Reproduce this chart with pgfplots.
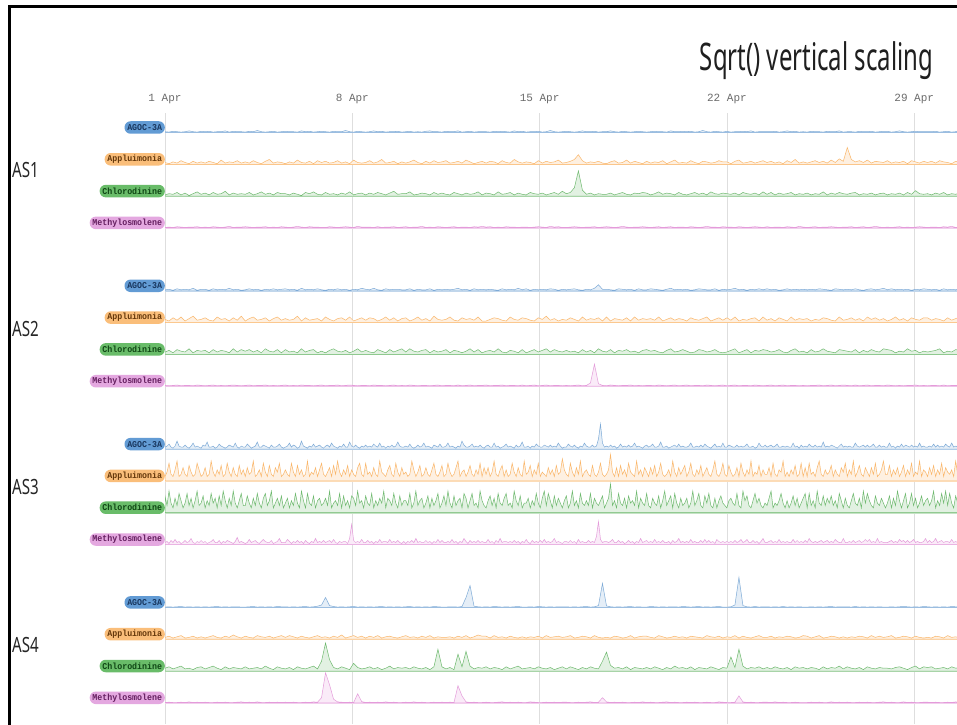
\documentclass[border=0pt]{standalone}
\usepackage{fontspec}
\setmainfont{Noto Sans}
\newfontfamily\mono{Liberation Mono}
\usepackage{pgfplots}
\usepackage{pgfplotstable}
\pgfplotsset{compat=1.18}

\definecolor{cB}{RGB}{125,170,215}\definecolor{cBp}{RGB}{98,155,212}\definecolor{cBt}{RGB}{25,55,95}
\definecolor{cO}{RGB}{250,182,105}\definecolor{cOp}{RGB}{250,190,122}\definecolor{cOt}{RGB}{100,55,10}
\definecolor{cG}{RGB}{110,185,110}\definecolor{cGp}{RGB}{105,188,105}\definecolor{cGt}{RGB}{15,70,20}
\definecolor{cP}{RGB}{228,155,218}\definecolor{cPp}{RGB}{228,168,224}\definecolor{cPt}{RGB}{100,30,95}

% AS1 AGOC-3A
\pgfplotstableread[row sep=\\]{v\\
2\\1\\3\\2\\1\\2\\4\\2\\1\\3\\
2\\3\\1\\2\\2\\4\\1\\3\\2\\2\\
1\\3\\2\\5\\2\\1\\2\\3\\1\\2\\
3\\2\\2\\1\\4\\2\\3\\1\\2\\3\\
2\\1\\3\\2\\2\\5\\2\\1\\3\\2\\
1\\2\\4\\2\\3\\1\\2\\2\\3\\1\\
2\\3\\1\\2\\1\\3\\4\\2\\2\\1\\
3\\2\\2\\4\\1\\2\\3\\1\\2\\2\\
2\\1\\3\\2\\3\\2\\1\\4\\2\\3\\
1\\2\\2\\3\\1\\2\\5\\2\\1\\2\\
3\\2\\1\\2\\4\\2\\2\\3\\1\\2\\
2\\4\\2\\1\\3\\2\\1\\2\\3\\2\\
1\\2\\3\\2\\2\\1\\4\\2\\2\\3\\
2\\3\\1\\2\\5\\2\\1\\3\\2\\1\\
3\\1\\2\\2\\3\\2\\4\\1\\2\\2\\
2\\2\\3\\1\\2\\4\\2\\3\\1\\2\\
1\\3\\2\\2\\1\\3\\2\\2\\4\\1\\
2\\2\\1\\3\\2\\2\\3\\1\\2\\3\\
3\\1\\2\\4\\2\\1\\2\\3\\2\\2\\
2\\2\\3\\1\\2\\3\\1\\2\\4\\2\\
}\tAa
% AS1 Appluimonia
\pgfplotstableread[row sep=\\]{v\\
3\\1\\4\\2\\6\\3\\1\\5\\2\\4\\
2\\5\\3\\1\\7\\2\\4\\3\\6\\2\\
4\\2\\6\\3\\1\\5\\8\\2\\4\\3\\
1\\4\\2\\7\\3\\2\\5\\1\\6\\3\\
5\\2\\3\\6\\2\\4\\1\\7\\3\\2\\
3\\6\\2\\4\\8\\2\\3\\5\\1\\4\\
2\\4\\7\\3\\1\\5\\2\\6\\3\\4\\
6\\2\\3\\5\\2\\7\\4\\1\\3\\5\\
2\\5\\4\\1\\6\\3\\2\\8\\4\\2\\
4\\3\\1\\6\\2\\5\\3\\4\\7\\2\\
3\\5\\8\\16\\6\\2\\4\\3\\5\\2\\
1\\4\\6\\2\\3\\7\\2\\5\\3\\1\\
5\\2\\4\\3\\6\\1\\4\\7\\2\\3\\
2\\6\\3\\1\\5\\4\\2\\3\\6\\4\\
4\\1\\5\\7\\2\\3\\5\\2\\4\\6\\
3\\5\\2\\4\\1\\6\\3\\8\\2\\4\\
2\\4\\6\\3\\5\\2\\7\\3\\9\\5\\
28\\8\\4\\6\\3\\7\\2\\5\\4\\3\\
6\\2\\4\\3\\5\\1\\6\\4\\2\\5\\
3\\5\\2\\6\\4\\3\\1\\5\\3\\4\\
}\tAb
% AS1 Chlorodinine
\pgfplotstableread[row sep=\\]{v\\
2\\4\\3\\6\\2\\5\\1\\4\\7\\3\\
5\\2\\6\\3\\4\\8\\2\\5\\3\\4\\
3\\6\\2\\4\\7\\3\\5\\2\\6\\4\\
4\\2\\5\\3\\1\\6\\4\\7\\3\\2\\
6\\3\\4\\2\\5\\3\\7\\2\\4\\5\\
2\\5\\3\\6\\4\\2\\5\\8\\3\\4\\
4\\7\\2\\3\\5\\4\\2\\6\\3\\5\\
3\\2\\6\\4\\2\\5\\3\\4\\7\\2\\
5\\4\\2\\7\\3\\4\\6\\2\\5\\3\\
2\\6\\4\\3\\5\\2\\4\\6\\3\\8\\
4\\6\\14\\42\\10\\3\\5\\2\\4\\3\\
3\\5\\2\\4\\6\\3\\2\\5\\4\\6\\
5\\2\\4\\7\\3\\5\\4\\2\\6\\3\\
2\\4\\6\\3\\5\\2\\7\\4\\3\\5\\
4\\3\\5\\2\\6\\4\\3\\5\\2\\7\\
3\\6\\2\\5\\3\\4\\6\\2\\4\\3\\
5\\2\\4\\3\\7\\2\\5\\3\\6\\4\\
3\\5\\6\\2\\4\\3\\5\\2\\4\\5\\
2\\4\\3\\5\\2\\6\\3\\9\\4\\3\\
4\\2\\5\\3\\6\\2\\4\\3\\5\\2\\
}\tAc
% AS1 Methylosmolene
\pgfplotstableread[row sep=\\]{v\\
1\\2\\1\\3\\2\\1\\2\\2\\3\\1\\
2\\1\\3\\2\\1\\2\\4\\1\\2\\2\\
3\\2\\1\\2\\2\\3\\1\\2\\1\\3\\
2\\1\\2\\4\\2\\1\\3\\2\\2\\1\\
1\\3\\2\\1\\2\\3\\2\\1\\4\\2\\
2\\2\\1\\3\\1\\2\\2\\3\\1\\2\\
3\\1\\2\\2\\4\\1\\2\\1\\3\\2\\
1\\2\\3\\1\\2\\2\\1\\3\\2\\4\\
2\\3\\1\\2\\1\\3\\2\\2\\1\\2\\
2\\1\\2\\3\\2\\1\\4\\2\\3\\1\\
1\\2\\3\\2\\1\\2\\2\\3\\1\\2\\
3\\2\\1\\2\\4\\2\\1\\2\\2\\3\\
2\\1\\2\\3\\1\\2\\3\\1\\2\\2\\
1\\3\\2\\1\\2\\4\\2\\2\\1\\3\\
2\\2\\1\\3\\2\\1\\2\\3\\2\\1\\
3\\1\\2\\2\\1\\3\\2\\1\\4\\2\\
1\\2\\3\\1\\2\\2\\3\\2\\1\\2\\
2\\3\\1\\2\\3\\1\\2\\4\\2\\1\\
2\\1\\2\\3\\1\\2\\1\\2\\3\\2\\
1\\2\\2\\1\\3\\2\\4\\1\\2\\3\\
}\tAd
% AS2 AGOC-3A
\pgfplotstableread[row sep=\\]{v\\
2\\3\\1\\4\\2\\3\\2\\5\\1\\3\\
3\\1\\4\\2\\3\\2\\5\\2\\3\\1\\
2\\4\\2\\3\\1\\3\\2\\4\\2\\3\\
4\\2\\3\\1\\5\\2\\3\\2\\4\\2\\
1\\3\\2\\4\\2\\3\\1\\3\\2\\5\\
3\\2\\5\\2\\1\\4\\2\\3\\3\\2\\
2\\4\\1\\3\\2\\2\\4\\1\\3\\2\\
3\\2\\3\\5\\2\\3\\1\\4\\2\\3\\
2\\3\\2\\1\\4\\2\\3\\2\\5\\2\\
4\\1\\3\\2\\3\\2\\4\\3\\1\\3\\
2\\3\\4\\2\\1\\3\\2\\5\\12\\3\\
3\\2\\1\\4\\3\\2\\3\\1\\4\\2\\
2\\4\\3\\2\\1\\3\\5\\2\\3\\2\\
3\\1\\2\\4\\3\\2\\2\\4\\1\\3\\
2\\3\\5\\2\\3\\1\\3\\2\\4\\2\\
4\\2\\3\\1\\2\\4\\2\\3\\2\\3\\
2\\3\\2\\4\\3\\2\\1\\4\\3\\2\\
3\\2\\4\\2\\1\\3\\4\\2\\3\\5\\
2\\4\\2\\3\\2\\3\\1\\3\\2\\4\\
3\\2\\3\\1\\4\\2\\3\\2\\4\\2\\
}\tBa
% AS2 Appluimonia
\pgfplotstableread[row sep=\\]{v\\
4\\2\\6\\3\\7\\2\\5\\8\\3\\4\\
6\\3\\2\\7\\4\\5\\2\\6\\3\\8\\
2\\5\\7\\3\\4\\6\\2\\5\\7\\3\\
5\\3\\4\\8\\2\\6\\3\\4\\5\\2\\
7\\4\\2\\5\\6\\3\\7\\2\\4\\6\\
3\\6\\5\\2\\4\\7\\3\\6\\2\\5\\
6\\2\\4\\7\\3\\5\\2\\8\\4\\3\\
4\\7\\3\\2\\6\\4\\5\\3\\7\\2\\
2\\4\\6\\5\\3\\2\\7\\4\\3\\6\\
5\\3\\2\\6\\4\\8\\3\\5\\2\\4\\
3\\6\\4\\2\\7\\3\\5\\4\\6\\2\\
7\\2\\5\\4\\3\\6\\2\\7\\3\\5\\
4\\5\\3\\7\\2\\4\\6\\3\\5\\4\\
2\\6\\4\\3\\5\\7\\2\\4\\6\\3\\
6\\3\\7\\2\\4\\3\\5\\6\\2\\7\\
3\\5\\2\\6\\4\\2\\7\\3\\5\\4\\
5\\2\\4\\3\\6\\5\\3\\2\\7\\3\\
4\\6\\3\\5\\2\\7\\4\\6\\3\\5\\
2\\4\\7\\3\\5\\2\\6\\4\\3\\6\\
6\\3\\5\\4\\2\\6\\3\\5\\7\\4\\
}\tBb
% AS2 Chlorodinine
\pgfplotstableread[row sep=\\]{v\\
3\\5\\2\\6\\4\\3\\7\\2\\5\\4\\
5\\2\\6\\3\\5\\4\\2\\7\\3\\6\\
4\\6\\3\\5\\2\\7\\4\\3\\6\\2\\
6\\3\\4\\2\\7\\3\\5\\6\\2\\4\\
2\\5\\7\\4\\3\\5\\2\\4\\7\\3\\
5\\3\\2\\6\\4\\2\\6\\3\\5\\7\\
3\\7\\4\\3\\5\\6\\2\\5\\3\\4\\
6\\2\\5\\4\\2\\4\\7\\3\\6\\2\\
4\\5\\3\\7\\3\\2\\5\\4\\2\\6\\
2\\4\\6\\3\\5\\7\\3\\6\\4\\3\\
5\\3\\4\\2\\6\\3\\5\\2\\7\\4\\
3\\6\\2\\5\\4\\6\\3\\4\\2\\5\\
6\\4\\5\\3\\2\\5\\7\\3\\4\\6\\
4\\2\\3\\6\\5\\3\\4\\6\\3\\2\\
3\\5\\7\\2\\4\\6\\2\\5\\4\\6\\
5\\3\\4\\6\\3\\2\\5\\7\\3\\4\\
2\\6\\3\\4\\7\\4\\3\\2\\6\\5\\
4\\3\\6\\2\\5\\3\\6\\4\\3\\7\\
6\\5\\2\\4\\3\\7\\4\\5\\2\\4\\
3\\4\\5\\7\\2\\4\\3\\6\\5\\3\\
}\tBc
% AS2 Methylosmolene
\pgfplotstableread[row sep=\\]{v\\
2\\1\\2\\3\\1\\2\\2\\1\\3\\2\\
1\\2\\3\\1\\2\\1\\2\\3\\2\\1\\
2\\3\\1\\2\\2\\3\\1\\2\\1\\2\\
3\\1\\2\\1\\3\\2\\2\\1\\2\\3\\
1\\2\\2\\3\\1\\2\\3\\2\\1\\2\\
2\\1\\3\\2\\2\\1\\2\\3\\1\\2\\
1\\3\\2\\1\\2\\2\\1\\2\\3\\1\\
2\\2\\1\\3\\1\\2\\3\\1\\2\\2\\
3\\1\\2\\2\\3\\1\\2\\2\\1\\3\\
1\\2\\3\\1\\2\\3\\1\\2\\2\\1\\
2\\1\\2\\3\\1\\2\\8\\55\\6\\2\\
1\\3\\2\\1\\2\\2\\3\\1\\2\\1\\
2\\2\\1\\3\\2\\1\\2\\3\\1\\2\\
3\\1\\2\\2\\1\\3\\2\\1\\2\\3\\
1\\2\\3\\1\\2\\2\\1\\3\\2\\1\\
2\\3\\1\\2\\3\\1\\2\\2\\1\\2\\
1\\2\\2\\3\\1\\2\\3\\1\\2\\3\\
2\\1\\3\\1\\2\\3\\1\\2\\2\\1\\
3\\2\\1\\2\\1\\2\\2\\3\\1\\2\\
1\\2\\2\\1\\3\\1\\2\\2\\3\\1\\
}\tBd
% AS3 AGOC-3A (finer step)
\pgfplotstableread[row sep=\\]{v\\
2\\3\\5\\2\\1\\3\\8\\3\\2\\2\\
4\\2\\1\\3\\6\\2\\3\\2\\1\\4\\
3\\7\\2\\2\\3\\1\\2\\5\\3\\2\\
1\\2\\4\\3\\2\\6\\2\\1\\3\\2\\
2\\5\\3\\1\\2\\3\\7\\2\\2\\4\\
3\\2\\1\\4\\2\\2\\3\\5\\2\\1\\
2\\3\\6\\2\\4\\3\\1\\2\\8\\3\\
2\\1\\3\\2\\5\\2\\3\\4\\2\\1\\
3\\4\\2\\6\\3\\2\\1\\3\\2\\5\\
2\\2\\7\\3\\2\\4\\2\\1\\3\\2\\
4\\2\\3\\2\\5\\3\\2\\6\\2\\3\\
1\\3\\2\\4\\2\\3\\7\\3\\2\\2\\
3\\2\\5\\2\\1\\2\\4\\2\\3\\6\\
2\\3\\2\\1\\4\\3\\2\\5\\2\\2\\
3\\6\\2\\3\\2\\1\\3\\2\\8\\4\\
2\\2\\3\\5\\2\\3\\2\\4\\2\\1\\
3\\4\\2\\2\\6\\2\\3\\1\\2\\3\\
5\\2\\3\\2\\1\\4\\2\\3\\7\\2\\
2\\3\\1\\3\\2\\5\\3\\2\\2\\4\\
3\\2\\4\\2\\3\\2\\6\\3\\1\\2\\
2\\5\\3\\2\\4\\2\\1\\3\\2\\6\\
3\\2\\2\\4\\2\\3\\10\\25\\6\\2\\
3\\2\\4\\2\\3\\1\\2\\5\\2\\3\\
2\\4\\2\\3\\6\\2\\3\\2\\1\\3\\
4\\2\\3\\5\\2\\2\\3\\7\\2\\2\\
3\\1\\2\\3\\4\\2\\5\\2\\3\\2\\
2\\3\\6\\2\\2\\3\\2\\4\\2\\5\\
3\\2\\1\\3\\5\\2\\3\\2\\6\\2\\
2\\4\\3\\2\\2\\4\\2\\3\\2\\3\\
5\\2\\2\\3\\1\\2\\6\\3\\2\\4\\
2\\3\\4\\2\\3\\5\\2\\2\\3\\2\\
3\\2\\2\\6\\2\\3\\1\\4\\2\\3\\
2\\5\\3\\2\\4\\2\\3\\2\\7\\2\\
3\\2\\4\\3\\2\\1\\3\\5\\2\\3\\
2\\3\\2\\2\\6\\3\\2\\3\\4\\2\\
4\\2\\3\\5\\2\\2\\4\\2\\3\\2\\
2\\6\\2\\3\\1\\3\\2\\5\\2\\4\\
3\\2\\4\\2\\3\\2\\6\\2\\3\\2\\
2\\3\\2\\5\\2\\4\\2\\3\\2\\5\\
3\\2\\6\\2\\3\\2\\4\\2\\3\\2\\
}\tCa
% AS3 Appluimonia (finer step)
\pgfplotstableread[row sep=\\]{v\\
2\\4\\8\\3\\2\\5\\9\\2\\3\\6\\
3\\2\\7\\4\\2\\3\\8\\5\\2\\3\\
6\\2\\3\\9\\4\\2\\5\\3\\7\\2\\
3\\8\\4\\2\\6\\3\\2\\7\\3\\5\\
2\\6\\3\\4\\9\\2\\3\\5\\2\\8\\
4\\2\\7\\3\\2\\6\\4\\8\\2\\3\\
5\\3\\2\\8\\4\\2\\7\\3\\5\\2\\
3\\9\\2\\4\\3\\6\\2\\5\\8\\3\\
2\\4\\6\\2\\7\\3\\9\\4\\2\\5\\
3\\7\\2\\5\\3\\2\\6\\8\\3\\2\\
8\\3\\4\\2\\6\\3\\2\\9\\4\\3\\
2\\5\\7\\3\\2\\8\\4\\2\\6\\3\\
4\\2\\3\\9\\5\\2\\4\\7\\2\\3\\
6\\3\\2\\5\\8\\3\\2\\4\\7\\2\\
3\\8\\4\\2\\3\\6\\9\\2\\4\\5\\
2\\4\\7\\3\\2\\5\\3\\8\\2\\6\\
3\\6\\2\\4\\9\\3\\2\\5\\7\\2\\
5\\2\\3\\8\\4\\2\\6\\3\\2\\9\\
3\\4\\7\\2\\5\\3\\8\\2\\4\\3\\
2\\6\\3\\5\\2\\7\\3\\4\\10\\5\\
3\\2\\8\\4\\2\\6\\3\\9\\2\\4\\
5\\3\\2\\7\\3\\2\\4\\8\\3\\2\\
3\\5\\12\\4\\2\\6\\2\\7\\3\\5\\
2\\8\\4\\3\\2\\9\\3\\5\\2\\6\\
4\\2\\6\\3\\7\\2\\4\\8\\3\\2\\
3\\5\\2\\9\\4\\2\\6\\3\\5\\7\\
2\\4\\8\\3\\2\\5\\3\\7\\2\\4\\
6\\3\\2\\5\\9\\3\\2\\4\\8\\3\\
2\\7\\4\\2\\3\\6\\2\\8\\4\\2\\
5\\3\\9\\2\\4\\3\\7\\2\\5\\3\\
3\\6\\2\\8\\3\\2\\5\\4\\9\\2\\
4\\2\\5\\3\\7\\2\\3\\8\\2\\6\\
2\\8\\3\\4\\2\\6\\9\\3\\2\\5\\
3\\4\\7\\2\\5\\3\\2\\6\\4\\8\\
2\\5\\3\\9\\2\\4\\7\\3\\2\\6\\
4\\2\\6\\3\\8\\2\\3\\5\\9\\3\\
3\\7\\2\\5\\3\\6\\2\\4\\7\\2\\
5\\3\\8\\2\\4\\3\\9\\2\\5\\4\\
2\\6\\3\\7\\2\\5\\3\\8\\2\\6\\
4\\3\\5\\2\\9\\3\\4\\6\\2\\7\\
}\tCb
% AS3 Chlorodinine (finer step)
\pgfplotstableread[row sep=\\]{v\\
7\\3\\9\\4\\2\\6\\3\\8\\5\\2\\
4\\8\\3\\6\\2\\5\\9\\3\\4\\7\\
2\\5\\3\\8\\4\\6\\2\\7\\3\\9\\
5\\2\\6\\3\\9\\4\\2\\5\\8\\3\\
3\\7\\4\\2\\6\\3\\8\\4\\2\\6\\
8\\3\\5\\9\\2\\4\\6\\3\\7\\2\\
4\\6\\2\\5\\3\\8\\4\\2\\9\\5\\
2\\8\\4\\3\\7\\2\\5\\6\\3\\4\\
6\\3\\9\\2\\4\\5\\3\\8\\2\\7\\
3\\5\\2\\7\\6\\3\\9\\4\\5\\2\\
7\\4\\3\\8\\2\\5\\3\\6\\4\\9\\
2\\6\\5\\3\\8\\4\\2\\7\\3\\5\\
5\\3\\8\\2\\4\\9\\3\\5\\6\\2\\
4\\7\\2\\6\\3\\5\\8\\2\\4\\7\\
3\\9\\4\\2\\7\\3\\5\\6\\2\\8\\
6\\2\\5\\8\\3\\4\\2\\9\\5\\3\\
2\\5\\7\\3\\6\\2\\8\\4\\3\\6\\
8\\3\\4\\2\\9\\5\\3\\7\\2\\4\\
4\\6\\2\\5\\3\\8\\4\\2\\6\\9\\
3\\8\\5\\2\\7\\3\\6\\4\\2\\5\\
7\\2\\4\\9\\3\\5\\2\\8\\4\\3\\
5\\3\\8\\2\\6\\4\\3\\5\\7\\2\\
4\\6\\12\\3\\5\\2\\8\\4\\3\\6\\
2\\7\\4\\5\\3\\9\\2\\6\\4\\3\\
8\\3\\2\\6\\4\\3\\7\\2\\5\\9\\
3\\5\\7\\2\\8\\4\\2\\6\\3\\4\\
6\\2\\4\\9\\3\\5\\8\\3\\2\\7\\
4\\8\\3\\2\\6\\2\\5\\7\\4\\3\\
2\\5\\6\\4\\3\\8\\3\\2\\9\\5\\
7\\3\\2\\5\\8\\4\\6\\3\\2\\4\\
3\\6\\9\\2\\4\\3\\5\\8\\4\\2\\
5\\2\\4\\7\\3\\6\\2\\4\\6\\8\\
2\\8\\3\\5\\2\\9\\4\\3\\7\\3\\
6\\4\\7\\3\\5\\2\\8\\5\\2\\6\\
3\\2\\5\\8\\4\\3\\6\\2\\9\\4\\
8\\5\\3\\2\\7\\4\\3\\6\\4\\2\\
4\\7\\2\\6\\3\\9\\5\\2\\5\\8\\
2\\4\\8\\3\\6\\2\\4\\7\\3\\5\\
6\\3\\5\\9\\2\\5\\3\\8\\4\\9\\
3\\8\\4\\2\\7\\4\\6\\3\\9\\5\\
}\tCc
% AS3 Methylosmolene (finer step)
\pgfplotstableread[row sep=\\]{v\\
2\\3\\1\\4\\2\\5\\2\\3\\1\\2\\
4\\2\\3\\6\\2\\1\\3\\2\\4\\2\\
3\\1\\2\\3\\5\\2\\2\\4\\1\\3\\
2\\4\\3\\2\\1\\3\\7\\2\\3\\2\\
1\\2\\5\\2\\3\\4\\2\\1\\3\\5\\
3\\2\\2\\4\\1\\2\\3\\6\\2\\2\\
2\\5\\3\\1\\3\\2\\4\\2\\3\\1\\
4\\2\\1\\3\\2\\6\\2\\3\\2\\4\\
2\\3\\4\\2\\5\\2\\1\\3\\2\\3\\
3\\1\\6\\20\\4\\2\\3\\2\\5\\2\\
2\\4\\2\\3\\1\\3\\2\\5\\2\\3\\
3\\2\\5\\2\\3\\2\\4\\2\\1\\3\\
1\\3\\2\\4\\2\\6\\2\\3\\2\\2\\
4\\2\\3\\1\\3\\2\\5\\2\\4\\2\\
2\\3\\2\\5\\2\\3\\1\\3\\2\\6\\
3\\1\\4\\2\\3\\2\\4\\2\\3\\2\\
2\\5\\2\\3\\1\\4\\2\\6\\2\\3\\
3\\2\\3\\2\\4\\2\\3\\1\\3\\2\\
5\\2\\1\\4\\2\\3\\2\\4\\2\\5\\
2\\3\\2\\3\\6\\2\\3\\2\\1\\3\\
3\\2\\4\\2\\3\\1\\5\\2\\3\\2\\
2\\4\\2\\3\\2\\8\\23\\5\\2\\3\\
3\\2\\3\\5\\2\\2\\4\\2\\3\\1\\
2\\4\\2\\3\\1\\3\\2\\6\\2\\3\\
4\\2\\3\\2\\5\\2\\3\\2\\4\\2\\
2\\3\\1\\4\\2\\3\\6\\2\\3\\2\\
3\\2\\5\\2\\3\\2\\2\\4\\2\\5\\
2\\4\\2\\3\\1\\5\\3\\2\\3\\2\\
3\\2\\3\\2\\4\\2\\3\\5\\2\\3\\
5\\2\\2\\4\\2\\3\\1\\3\\6\\2\\
2\\3\\4\\2\\3\\2\\5\\2\\3\\2\\
3\\2\\2\\5\\2\\4\\2\\3\\2\\4\\
2\\6\\3\\2\\3\\2\\3\\4\\2\\3\\
4\\2\\3\\2\\5\\3\\2\\2\\6\\2\\
2\\3\\2\\4\\2\\3\\4\\2\\3\\5\\
3\\5\\2\\3\\2\\6\\2\\3\\2\\2\\
2\\3\\4\\2\\3\\2\\5\\3\\4\\2\\
4\\2\\3\\5\\2\\3\\2\\2\\3\\6\\
2\\4\\2\\3\\6\\2\\3\\4\\2\\3\\
3\\2\\5\\2\\3\\2\\4\\2\\6\\3\\
}\tCd
% AS4 AGOC-3A
\pgfplotstableread[row sep=\\]{v\\
1\\2\\1\\2\\3\\1\\2\\1\\2\\1\\
2\\1\\2\\3\\1\\2\\1\\2\\2\\1\\
1\\2\\3\\1\\2\\1\\2\\1\\3\\2\\
2\\1\\2\\1\\2\\3\\1\\2\\4\\8\\
33\\6\\3\\1\\2\\1\\2\\3\\1\\2\\
1\\2\\1\\2\\3\\1\\2\\1\\2\\1\\
2\\3\\1\\2\\1\\2\\1\\3\\2\\1\\
1\\2\\2\\1\\3\\33\\73\\4\\2\\1\\
2\\1\\3\\2\\1\\2\\1\\2\\3\\1\\
1\\2\\1\\3\\2\\1\\2\\1\\2\\2\\
2\\1\\2\\1\\2\\3\\1\\2\\6\\80\\
5\\2\\1\\2\\1\\2\\3\\1\\2\\1\\
1\\3\\2\\1\\2\\1\\2\\2\\1\\3\\
2\\1\\2\\3\\1\\2\\1\\2\\3\\1\\
1\\2\\8\\100\\6\\2\\1\\3\\1\\2\\
2\\1\\2\\1\\3\\1\\2\\1\\2\\1\\
1\\2\\1\\2\\1\\2\\3\\1\\2\\2\\
2\\1\\3\\1\\2\\1\\2\\1\\2\\1\\
1\\2\\1\\2\\3\\2\\1\\2\\1\\3\\
2\\1\\2\\1\\2\\1\\3\\2\\1\\2\\
}\tDa
% AS4 Appluimonia
\pgfplotstableread[row sep=\\]{v\\
3\\5\\2\\4\\6\\2\\3\\5\\2\\4\\
2\\4\\6\\3\\2\\5\\3\\7\\4\\2\\
5\\3\\2\\6\\4\\3\\5\\2\\4\\6\\
3\\6\\4\\2\\5\\3\\2\\4\\6\\3\\
4\\2\\5\\3\\7\\2\\4\\6\\3\\5\\
2\\5\\3\\6\\2\\4\\5\\3\\2\\4\\
6\\3\\4\\2\\5\\3\\6\\2\\4\\3\\
3\\4\\2\\5\\3\\6\\2\\4\\7\\5\\
5\\2\\6\\3\\4\\2\\5\\3\\2\\4\\
2\\4\\3\\5\\2\\6\\3\\4\\5\\3\\
4\\6\\2\\3\\5\\4\\2\\6\\3\\2\\
3\\2\\5\\4\\2\\3\\6\\2\\4\\5\\
5\\3\\2\\6\\4\\2\\3\\5\\3\\4\\
2\\5\\4\\3\\2\\6\\4\\3\\5\\2\\
4\\3\\6\\2\\5\\3\\2\\4\\6\\3\\
3\\5\\2\\4\\3\\5\\4\\2\\3\\6\\
5\\2\\4\\6\\2\\3\\5\\4\\2\\4\\
2\\4\\3\\5\\4\\2\\6\\3\\5\\3\\
4\\6\\2\\3\\5\\4\\2\\5\\3\\2\\
3\\2\\5\\4\\2\\6\\3\\4\\2\\5\\
}\tDb
% AS4 Chlorodinine
\pgfplotstableread[row sep=\\]{v\\
4\\6\\3\\5\\7\\3\\4\\2\\5\\6\\
3\\5\\7\\4\\2\\6\\3\\5\\4\\3\\
6\\3\\4\\5\\3\\7\\4\\2\\6\\4\\
3\\5\\2\\6\\4\\3\\5\\7\\3\\14\\
40\\16\\5\\3\\6\\4\\2\\11\\5\\3\\
4\\6\\3\\5\\2\\4\\7\\3\\5\\4\\
5\\3\\6\\4\\3\\5\\2\\6\\31\\6\\
3\\5\\2\\24\\6\\28\\7\\3\\5\\4\\
6\\3\\5\\4\\2\\6\\3\\5\\7\\3\\
4\\5\\3\\6\\4\\3\\5\\2\\4\\6\\
3\\6\\4\\2\\5\\3\\6\\4\\3\\14\\
27\\8\\4\\5\\3\\6\\2\\5\\4\\3\\
5\\3\\6\\4\\2\\5\\3\\7\\4\\5\\
3\\6\\2\\5\\4\\3\\6\\4\\2\\5\\
4\\20\\5\\31\\7\\3\\5\\4\\6\\3\\
5\\3\\6\\4\\3\\5\\2\\6\\4\\5\\
3\\5\\4\\2\\6\\3\\5\\4\\7\\3\\
6\\4\\3\\5\\2\\6\\4\\3\\5\\4\\
4\\3\\5\\6\\4\\2\\5\\7\\3\\6\\
5\\6\\3\\4\\5\\3\\6\\4\\5\\7\\
}\tDc
% AS4 Methylosmolene
\pgfplotstableread[row sep=\\]{v\\
1\\2\\1\\1\\2\\1\\3\\1\\2\\1\\
2\\1\\1\\2\\1\\2\\1\\1\\2\\3\\
1\\2\\1\\3\\1\\1\\2\\1\\2\\1\\
2\\1\\2\\1\\1\\2\\1\\3\\2\\17\\
100\\60\\12\\3\\2\\1\\2\\1\\30\\4\\
1\\2\\1\\2\\1\\3\\1\\2\\1\\1\\
2\\1\\3\\1\\2\\1\\1\\2\\1\\2\\
1\\2\\1\\57\\23\\3\\1\\2\\1\\1\\
2\\1\\1\\2\\3\\1\\2\\1\\2\\1\\
1\\3\\2\\1\\1\\2\\1\\2\\1\\2\\
2\\1\\1\\2\\1\\2\\3\\1\\2\\17\\
3\\1\\2\\1\\2\\1\\1\\2\\1\\3\\
1\\2\\1\\1\\2\\3\\1\\2\\1\\1\\
2\\1\\2\\1\\1\\2\\1\\1\\3\\2\\
1\\1\\2\\23\\3\\1\\2\\1\\1\\2\\
2\\1\\3\\1\\2\\1\\1\\2\\1\\1\\
1\\2\\1\\2\\1\\1\\3\\1\\2\\1\\
2\\1\\1\\2\\1\\2\\1\\1\\2\\3\\
1\\2\\1\\1\\3\\1\\2\\1\\1\\2\\
2\\1\\2\\1\\1\\2\\1\\3\\1\\2\\
}\tDd

% #1 baseline (tikz y, pt), #2 colour key, #3 scale, #4 table, #5 label, #6 step (days)
\newcommand{\ser}[6]{%
\begin{axis}[at={(165pt,#1pt-1pt)}, anchor=south west, scale only axis,
  width=792pt, height=40pt, xmin=0, xmax=29.6, ymin=-1, ymax=39, hide axis]
\draw[c#2!40, line width=1.6pt] (axis cs:0,0) -- (axis cs:29.6,0);
\addplot[draw=c#2, line width=0.5pt, fill=c#2!20, mark=none]
  table[x index=0, y index=0, x expr=\coordindex*#6, y expr=\thisrowno{0}*#3] {#4} \closedcycle;
\end{axis}
\node[anchor=east, fill=c#2p, text=c#2t, rounded corners=6pt, inner xsep=3pt,
  inner ysep=0pt, minimum height=12.5pt, xscale=0.92, font=\mono\bfseries\fontsize{9}{10}\selectfont]
  at (165pt,#1pt+5pt) {#5};
}

\begin{document}
\begin{tikzpicture}
\path[use as bounding box] (0,0) rectangle (957pt,724pt);
\fill[white] (0,0) rectangle (957pt,724pt);
\begin{axis}[at={(0pt,0pt)}, anchor=south west, scale only axis,
  width=957pt, height=611pt, xmin=-6.1666, xmax=29.6, ymin=0, ymax=1,
  hide y axis, axis line style={draw=none}, major tick length=0pt,
  xtick={0,7,14,21,28}, xticklabels={1 Apr,8 Apr,15 Apr,22 Apr,29 Apr},
  xticklabel pos=upper, xmajorgrids, grid style={black!13, line width=0.6pt},
  xticklabel style={font=\mono\fontsize{11}{12}\selectfont, text=black!58, anchor=base, yshift=11pt}]
\end{axis}
\ser{591.5}{B}{0.4}{\tAa}{AGOC-3A}{0.15}
\ser{559.7}{O}{0.6}{\tAb}{Appluimonia}{0.15}
\ser{527.9}{G}{0.6}{\tAc}{Chlorodinine}{0.15}
\ser{496.1}{P}{0.4}{\tAd}{Methylosmolene}{0.15}
\ser{433.2}{B}{0.5}{\tBa}{AGOC-3A}{0.15}
\ser{401.4}{O}{0.8}{\tBb}{Appluimonia}{0.15}
\ser{369.6}{G}{0.8}{\tBc}{Chlorodinine}{0.15}
\ser{337.8}{P}{0.4}{\tBd}{Methylosmolene}{0.15}
\ser{274.9}{B}{1.0}{\tCa}{AGOC-3A}{0.075}
\ser{243.1}{O}{2.2}{\tCb}{Appluimonia}{0.075}
\ser{211.3}{G}{2.4}{\tCc}{Chlorodinine}{0.075}
\ser{179.5}{P}{1.0}{\tCd}{Methylosmolene}{0.075}
\ser{116.6}{B}{0.3}{\tDa}{AGOC-3A}{0.15}
\ser{84.8}{O}{0.6}{\tDb}{Appluimonia}{0.15}
\ser{53.0}{G}{0.7}{\tDc}{Chlorodinine}{0.15}
\ser{21.2}{P}{0.3}{\tDd}{Methylosmolene}{0.15}
\foreach \y/\t in {546/AS1, 387.7/AS2, 229.4/AS3, 71.1/AS4}
  \node[anchor=base west, xscale=0.72, inner sep=0pt, text=black!85,
    font=\fontsize{21}{24}\selectfont] at (12pt,\y pt) {\t};
\node[anchor=base east, xscale=0.63, inner sep=0pt, text=black!88,
  font=\fontsize{38}{42}\selectfont] at (933pt,653pt) {Sqrt() vertical scaling};
\draw[black, line width=3.5pt] (9.5pt,-5pt) -- (9.5pt,717.5pt) -- (965pt,717.5pt);
\end{tikzpicture}
\end{document}
